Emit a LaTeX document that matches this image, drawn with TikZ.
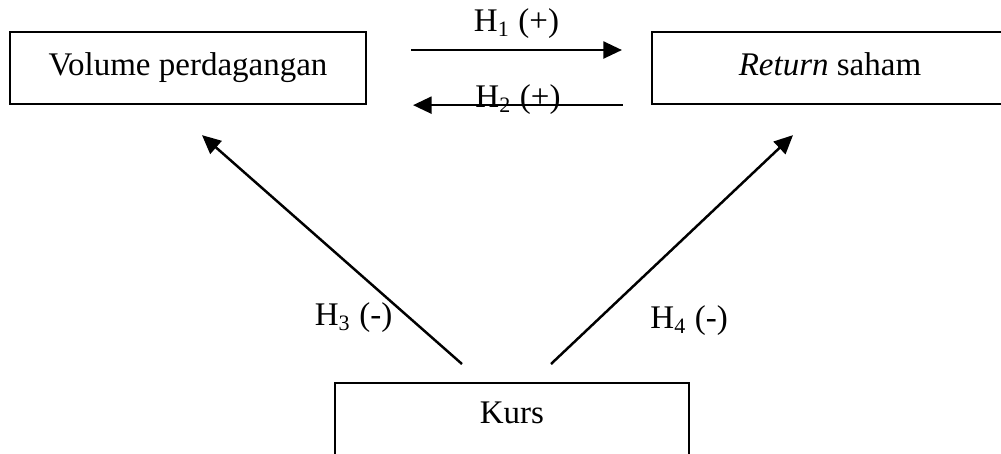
\documentclass[tikz,border=0pt]{standalone}
\usepackage{fontspec}
\setmainfont{Liberation Serif}
\usetikzlibrary{arrows.meta,calc,positioning}
\tikzset{
  box/.style={draw,line width=0.8pt,minimum width=129.4pt,minimum height=26.2pt,
              inner sep=0pt,text height=8.2pt,text depth=2.6pt,font=\fontsize{12}{14}\selectfont},
  flow/.style={-{Triangle[length=6.8pt,width=6.2pt]},line width=0.9pt},
  hyp/.style={font=\fontsize{12}{14}\selectfont,inner sep=2pt,text height=8.2pt,text depth=2.6pt}
}
\begin{document}
\begin{tikzpicture}[x=0.3636pt,y=-0.3636pt]
  \useasboundingbox (0,0) rectangle (1001,453);
  \clip (0,0) rectangle (1001,453);
  \node[box] (vol) at (188,68) {Volume perdagangan};
  \node[box] (ret) at (830,68) {\textit{Return} saham};
  \node[box,anchor=north,minimum width=128.7pt,minimum height=36pt,text depth=14.6pt] (kurs) at (512,382) {Kurs};
  % hubungan dua arah
  \draw[flow] ($(vol.east)+(44,-18)$) -- ($(ret.west)+(-29,-18)$)
    node[hyp,midway,above=1.5pt] {H\textsubscript{1} (+)};
  \draw[flow] ($(ret.south west)+(-28,0)$) -- ($(vol.south east)+(46,0)$)
    node[hyp,midway,yshift=2pt] {H\textsubscript{2} (+)};
  % pengaruh kurs
  \draw[flow] ($(kurs.north)+(-50,-18)$) -- ($(vol.south)+(14,30)$)
    node[hyp,pos=0.2,left=4pt] {H\textsubscript{3} (-)};
  \draw[flow] ($(kurs.north)+(39,-18)$) -- ($(ret.south)+(-37,30)$)
    node[hyp,pos=0.19,right=17pt] {H\textsubscript{4} (-)};
\end{tikzpicture}
\end{document}
